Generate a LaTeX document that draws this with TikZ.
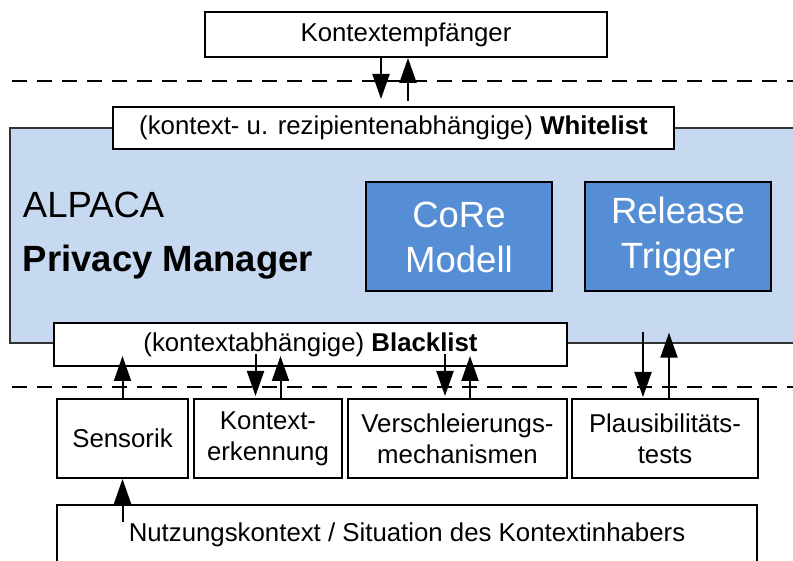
\documentclass[tikz,border=0pt]{standalone}
\usepackage{fontspec}
\setmainfont{Liberation Sans}
\usetikzlibrary{arrows.meta, calc, positioning}
\definecolor{pmfill}{RGB}{198,217,240}
\definecolor{modfill}{RGB}{85,142,213}

\begin{document}
\begin{tikzpicture}[x=0.5pt, y=-0.5pt, line width=1pt,
	box/.style={draw, fill=white, inner sep=0pt, align=center, font=\fontsize{12.9}{15.5}\selectfont},
	modbox/.style={draw, fill=modfill, text=white, inner sep=0pt, align=center, font=\fontsize{18.25}{22.5}\selectfont},
	arr/.style={-{Triangle[length=12.5pt,width=8.5pt]}},
	down/.style={arr, shorten <=-6.5pt, shorten >=1pt},
	up/.style={arr, shorten >=-5.5pt},
	sep/.style={line width=0.9pt, dash pattern=on 7.5pt off 5pt}]
	\useasboundingbox (0,0) rectangle (793,561);
	% layer borders
	\draw[sep] (12,81) -- (793,81);
	\draw[sep] (12,387) -- (793,387);
	% privacy manager
	\node[draw=black!80, line width=0.7pt, fill=pmfill, minimum width=395pt, minimum height=107.5pt] (pm) at (405,235.5) {};
	\node[anchor=base west, inner sep=0pt, font=\fontsize{18.25}{22}\selectfont] (alp) at (22,218) {ALPACA};
	\node[anchor=base west, inner sep=0pt, font=\fontsize{18.25}{22}\selectfont\bfseries] (mgr) at (22,272) {Privacy Manager};
	\node[modbox, minimum width=93pt, minimum height=54.5pt] (core) at (459,237) {CoRe\\Modell};
	\node[modbox, minimum width=93pt, minimum height=54.5pt] (rt) at (678,237) {Release\\Trigger};
	\node[box, minimum width=280.5pt, minimum height=21pt] (wl) at (393.5,128) {(kontext- u. rezipientenabhängige) \textbf{Whitelist}};
	\node[box, minimum width=256.5pt, minimum height=21.5pt] (bl) at (310.5,344.5) {(kontextabhängige) \textbf{Blacklist}};
	% outside
	\node[box, minimum width=201pt, minimum height=22.5pt] (empf) at (406,34.5) {Kontextempfänger};
	\node[box, minimum width=350pt, minimum height=29.5pt] (nutz) at (407,534.5) {Nutzungskontext / Situation des Kontextinhabers};
	% components
	\foreach \n/\l/\r/\t in {sen/57/188/Sensorik, ker/194/342/{Kontext-\\erkennung}, vsm/348/567/{Verschleierungs-\\mechanismen}, plt/572/758/{Plausibilitäts-\\tests}}
		\node[box, minimum width={(\r-\l)*0.5pt}, minimum height=39.5pt] (\n) at ({(\l+\r)/2},438.5) {\t};
	% flows
	\draw[arr, shorten >=3.5pt] ([xshift=-12.5pt]empf.south) -- ([xshift=-6.25pt]wl.north);
	\draw[arr, shorten <=2.5pt] ([xshift=7.25pt]wl.north) -- ([xshift=1pt]empf.south);
	\draw[up] (sen.north) -- (sen.north |- bl.south);
	\draw[arr, shorten <=-9pt] (sen.south |- nutz.north) -- (sen.south);
	\foreach \n in {ker,vsm}{
		\draw[down] ([xshift=-6.25pt]\n.north |- bl.south) -- ([xshift=-6.25pt]\n.north);
		\draw[up] ([xshift=6.25pt]\n.north) -- ([xshift=6.25pt]\n.north |- bl.south);
	}
	\draw[arr, shorten <=-6pt, shorten >=0.5pt] ([xshift=-11pt]plt.north |- pm.south) -- ([xshift=-11pt]plt.north);
	\draw[arr, shorten >=-5.5pt] ([xshift=2pt]plt.north) -- ([xshift=2pt]plt.north |- pm.south);
\end{tikzpicture}
\end{document}
